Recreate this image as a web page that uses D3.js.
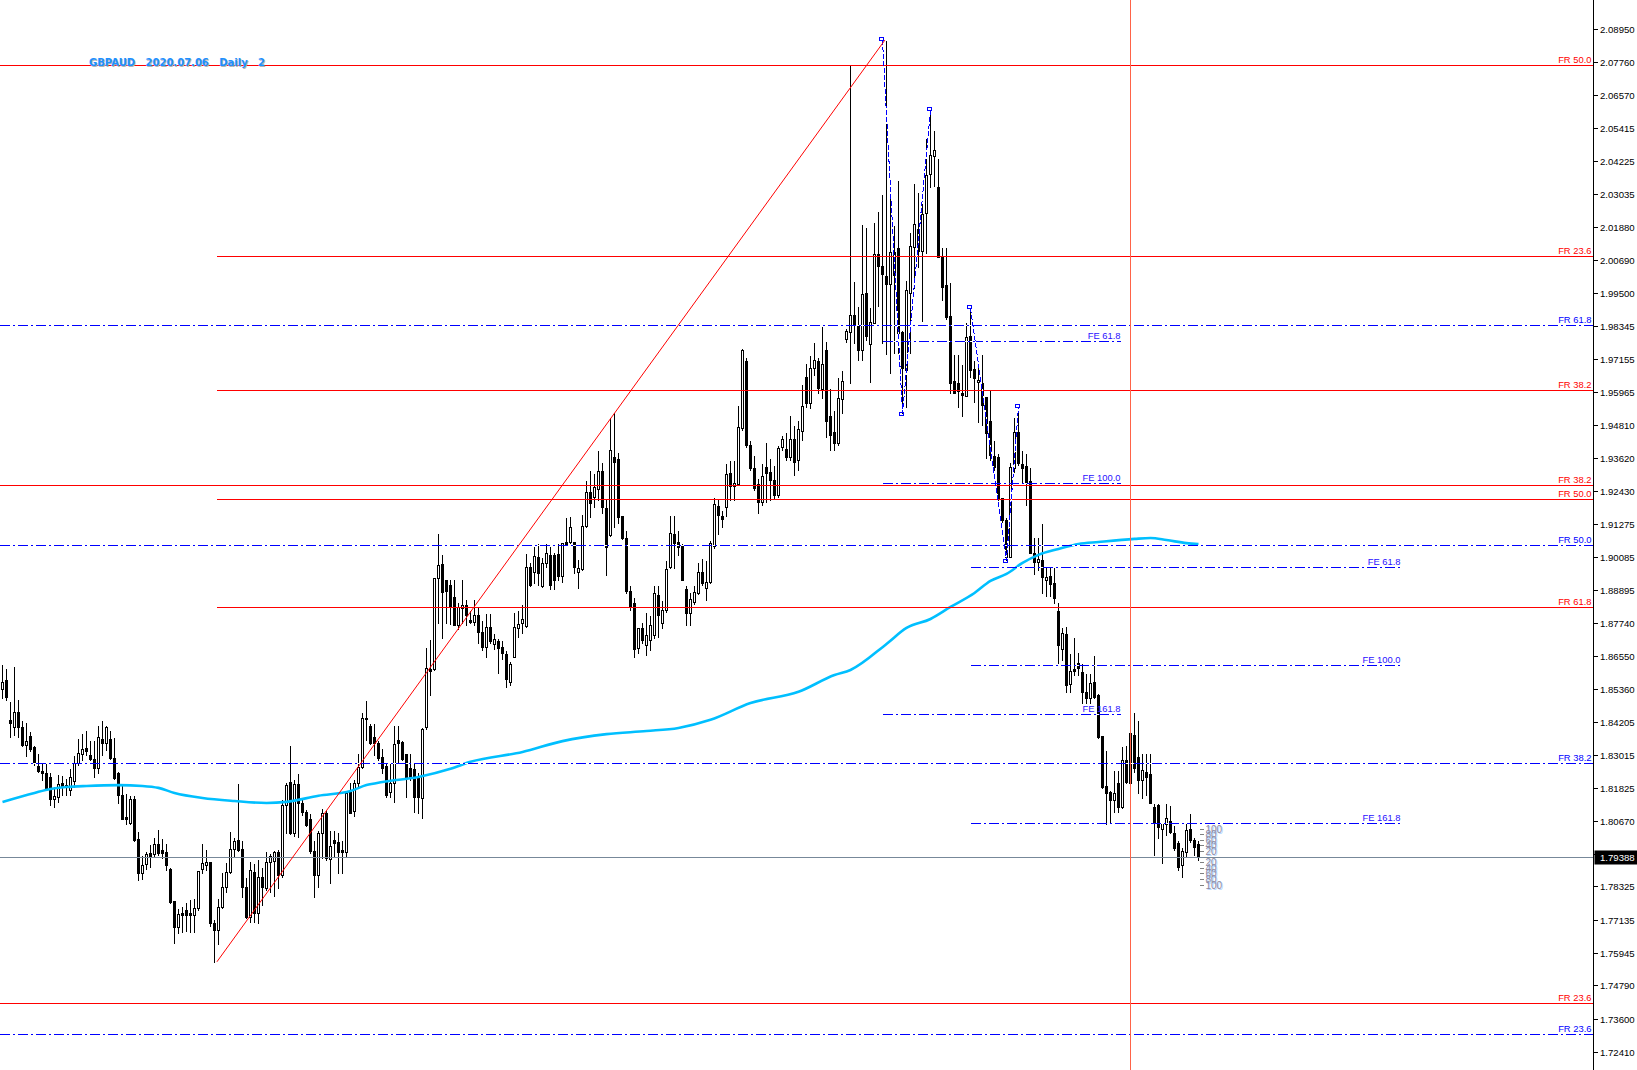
<!DOCTYPE html>
<html>
<head>
<meta charset="utf-8">
<title>GBPAUD Daily</title>
<script src="https://cdnjs.cloudflare.com/ajax/libs/d3/7.8.5/d3.min.js"></script>
<style>
  html, body { margin: 0; padding: 0; background: #fff; overflow: hidden; }
  svg { display: block; }
  text { font-family: 'Liberation Sans', Arial, sans-serif; }
</style>
</head>
<body>
<div class="visHolder"></div>
<script>
// Chart title pieces
var symbol = 'GBPAUD', dateText = '2020.07.06', period = 'Daily', windowNo = '2';

// Daily candles, oldest first
var opens = [
1.8537,1.8569,1.8427,1.8402,1.8455,1.8402,1.8337,1.8370,1.8330,1.8263,
1.8244,1.8237,1.8223,1.8145,1.8152,1.8201,1.8194,1.8177,1.8208,1.8273,
1.8306,1.8327,1.8302,1.8288,1.8255,1.8359,1.8344,1.8359,1.8291,1.8237,
1.8159,1.8080,1.8059,1.8145,1.8002,1.7880,1.7913,1.7952,1.7949,1.7984,
1.7963,1.7956,1.7895,1.7780,1.7688,1.7737,1.7748,1.7737,1.7730,1.7755,
1.7895,1.7909,1.7920,1.7702,1.7677,1.7759,1.7830,1.7884,1.7966,1.7998,
1.7966,1.7830,1.7723,1.7884,1.7737,1.7866,1.7827,1.7920,1.7923,1.7956,
1.7873,1.8123,1.8205,1.8023,1.8198,1.8130,1.8098,1.8073,1.7959,1.7873,
1.8023,1.8094,1.7931,1.7998,1.7991,1.7963,1.7956,1.8170,1.8101,1.8201,
1.8259,1.8434,1.8405,1.8366,1.8344,1.8295,1.8263,1.8170,1.8201,1.8355,
1.8348,1.8306,1.8255,1.8252,1.8223,1.8148,1.8402,1.8609,1.8609,1.8933,
1.8984,1.8926,1.8908,1.8866,1.8766,1.8826,1.8837,1.8784,1.8777,1.8801,
1.8741,1.8687,1.8759,1.8698,1.8709,1.8687,1.8662,1.8562,1.8652,1.8755,
1.8773,1.8762,1.8973,1.8955,1.9009,1.8905,1.8987,1.9016,1.9016,1.9020,
1.8941,1.9062,1.9062,1.9062,1.8955,1.8966,1.9119,1.9241,1.9223,1.9251,
1.9315,1.9183,1.9087,1.9366,1.9359,1.9155,1.9076,1.8887,1.8844,1.8684,
1.8755,1.8694,1.8712,1.8730,1.8873,1.8773,1.8819,1.8973,1.9091,1.9062,
1.9048,1.8894,1.8808,1.8848,1.8880,1.8955,1.8898,1.8919,1.9048,1.9191,
1.9155,1.9187,1.9308,1.9262,1.9269,1.9469,1.9708,1.9409,1.9326,1.9269,
1.9205,1.9330,1.9312,1.9283,1.9230,1.9401,1.9394,1.9366,1.9430,1.9355,
1.9458,1.9651,1.9558,1.9683,1.9708,1.9608,1.9748,1.9512,1.9455,1.9416,
1.9573,1.9787,1.9812,1.9872,1.9833,1.9748,1.9951,1.9769,1.9844,2.0090,
2.0047,2.0012,1.9983,2.0098,2.0112,1.9812,1.9676,1.9951,2.0115,2.0180,
2.0101,2.0237,2.0376,2.0440,2.0329,2.0080,1.9979,1.9869,1.9637,1.9630,
1.9594,1.9583,1.9798,1.9680,1.9633,1.9630,1.9580,1.9494,1.9369,1.9366,
1.9219,1.9141,1.9009,1.9326,1.9455,1.9341,1.9334,1.9280,1.9023,1.8991,
1.8998,1.8926,1.8941,1.8915,1.8816,1.8680,1.8734,1.8555,1.8609,1.8630,
1.8598,1.8527,1.8505,1.8562,1.8516,1.8370,1.8191,1.8170,1.8141,1.8201,
1.8116,1.8284,1.8201,1.8373,1.8295,1.8212,1.8241,1.8234,1.8116,1.8123,
1.8038,1.8056,1.8066,1.8023,1.7987,1.7909,1.7956,1.8038,1.7998,1.7984];

var highs = [
1.8627,1.8612,1.8494,1.8620,1.8502,1.8427,1.8420,1.8387,1.8337,1.8309,
1.8273,1.8273,1.8241,1.8191,1.8234,1.8230,1.8219,1.8255,1.8302,1.8362,
1.8380,1.8391,1.8355,1.8355,1.8409,1.8427,1.8409,1.8391,1.8366,1.8244,
1.8198,1.8166,1.8159,1.8159,1.8030,1.7945,1.7959,1.7984,1.8009,1.8037,
1.8005,1.7987,1.7902,1.7780,1.7755,1.7762,1.7777,1.7788,1.7791,1.7891,
1.7987,1.7966,1.7923,1.7716,1.7791,1.7884,1.7920,1.8030,1.8009,1.8201,
1.7998,1.7866,1.7923,1.7916,1.7931,1.7902,1.7959,1.7952,1.7963,1.7966,
1.8145,1.8205,1.8337,1.8216,1.8237,1.8152,1.8109,1.8094,1.7998,1.8034,
1.8112,1.8105,1.8034,1.8034,1.8027,1.7998,1.8170,1.8205,1.8216,1.8309,
1.8455,1.8498,1.8416,1.8416,1.8355,1.8327,1.8277,1.8273,1.8409,1.8409,
1.8355,1.8309,1.8309,1.8273,1.8241,1.8402,1.8687,1.8716,1.8937,1.9094,
1.9020,1.8930,1.8930,1.8930,1.8848,1.8930,1.8859,1.8819,1.8859,1.8834,
1.8784,1.8808,1.8808,1.8737,1.8719,1.8712,1.8677,1.8637,1.8812,1.8819,
1.8841,1.9023,1.8991,1.9048,1.9058,1.9009,1.9058,1.9048,1.9027,1.9058,
1.9058,1.9151,1.9155,1.9062,1.9002,1.9162,1.9283,1.9319,1.9308,1.9391,
1.9348,1.9219,1.9508,1.9526,1.9384,1.9158,1.9105,1.8908,1.8866,1.8737,
1.8777,1.8812,1.8801,1.8908,1.8908,1.8855,1.8998,1.9158,1.9158,1.9105,
1.9058,1.8908,1.8884,1.8908,1.8991,1.9005,1.8998,1.9069,1.9223,1.9219,
1.9176,1.9344,1.9355,1.9355,1.9551,1.9755,1.9723,1.9426,1.9373,1.9290,
1.9344,1.9419,1.9362,1.9337,1.9409,1.9444,1.9455,1.9516,1.9480,1.9498,
1.9626,1.9701,1.9730,1.9776,1.9723,1.9833,1.9780,1.9612,1.9533,1.9651,
1.9676,1.9826,2.0765,1.9994,1.9905,2.0198,2.0187,1.9901,2.0205,2.0244,
2.0305,2.0854,2.0308,2.0194,2.0354,1.9819,1.9997,2.0169,2.0344,2.0312,
2.0272,2.0504,2.0604,2.0533,2.0433,2.0115,2.0115,1.9990,1.9733,1.9733,
1.9698,1.9848,1.9897,1.9712,1.9705,1.9733,1.9580,1.9605,1.9426,1.9380,
1.9223,1.9151,1.9348,1.9508,1.9544,1.9391,1.9380,1.9330,1.9080,1.9080,
1.9130,1.8973,1.8973,1.8973,1.8848,1.8759,1.8762,1.8666,1.8723,1.8670,
1.8630,1.8594,1.8594,1.8659,1.8523,1.8373,1.8320,1.8177,1.8248,1.8248,
1.8334,1.8337,1.8416,1.8455,1.8427,1.8309,1.8309,1.8309,1.8130,1.8130,
1.8063,1.8130,1.8123,1.8052,1.7998,1.7973,1.8059,1.8094,1.8009,1.7998];

var lows = [
1.8505,1.8498,1.8366,1.8373,1.8366,1.8334,1.8299,1.8316,1.8266,1.8241,
1.8212,1.8177,1.8123,1.8116,1.8134,1.8159,1.8159,1.8159,1.8187,1.8266,
1.8284,1.8302,1.8284,1.8223,1.8237,1.8302,1.8320,1.8288,1.8216,1.8130,
1.8073,1.8056,1.8056,1.7994,1.7855,1.7859,1.7895,1.7902,1.7942,1.7945,
1.7934,1.7891,1.7773,1.7630,1.7666,1.7670,1.7673,1.7670,1.7670,1.7748,
1.7880,1.7891,1.7691,1.7563,1.7627,1.7755,1.7813,1.7880,1.7938,1.7959,
1.7795,1.7720,1.7706,1.7706,1.7702,1.7766,1.7820,1.7813,1.7798,1.7827,
1.7866,1.8023,1.8020,1.8013,1.8009,1.8087,1.8048,1.7952,1.7795,1.7830,
1.7934,1.7927,1.7844,1.7938,1.7880,1.7880,1.7938,1.8094,1.8084,1.8187,
1.8255,1.8355,1.8341,1.8302,1.8284,1.8237,1.8152,1.8152,1.8134,1.8273,
1.8284,1.8152,1.8212,1.8098,1.8094,1.8077,1.8395,1.8516,1.8605,1.8773,
1.8719,1.8773,1.8770,1.8766,1.8752,1.8773,1.8766,1.8773,1.8766,1.8702,
1.8677,1.8652,1.8702,1.8680,1.8594,1.8645,1.8544,1.8551,1.8652,1.8723,
1.8737,1.8759,1.8905,1.8915,1.8908,1.8901,1.8973,1.8894,1.8894,1.8926,
1.8919,1.9051,1.9058,1.8951,1.8897,1.8962,1.9116,1.9151,1.9187,1.9212,
1.9165,1.8944,1.9084,1.9116,1.9130,1.9073,1.8880,1.8819,1.8652,1.8666,
1.8702,1.8659,1.8677,1.8719,1.8723,1.8755,1.8812,1.8969,1.8969,1.9016,
1.8926,1.8766,1.8766,1.8841,1.8877,1.8908,1.8855,1.8915,1.9041,1.9091,
1.9116,1.9155,1.9212,1.9212,1.9265,1.9462,1.9401,1.9319,1.9248,1.9165,
1.9194,1.9205,1.9212,1.9219,1.9223,1.9391,1.9355,1.9355,1.9301,1.9319,
1.9426,1.9544,1.9541,1.9658,1.9594,1.9576,1.9437,1.9391,1.9391,1.9409,
1.9523,1.9776,1.9630,1.9773,1.9712,1.9712,1.9783,1.9633,1.9844,1.9905,
1.9773,1.9733,1.9665,1.9737,1.9737,1.9523,1.9544,1.9737,1.9969,2.0044,
1.9851,2.0094,2.0329,2.0333,2.0080,1.9926,1.9858,1.9594,1.9594,1.9544,
1.9512,1.9583,1.9651,1.9562,1.9491,1.9480,1.9362,1.9355,1.9319,1.9201,
1.9134,1.8998,1.9009,1.9312,1.9337,1.9273,1.9194,1.9023,1.8948,1.8962,
1.8880,1.8869,1.8869,1.8844,1.8630,1.8641,1.8527,1.8527,1.8587,1.8587,
1.8487,1.8487,1.8487,1.8505,1.8362,1.8184,1.8056,1.8059,1.8098,1.8098,
1.8112,1.8201,1.8187,1.8241,1.8166,1.8148,1.8159,1.8130,1.7945,1.8005,
1.7916,1.8016,1.8023,1.7963,1.7891,1.7866,1.7938,1.7991,1.7945,1.7927];

var closes = [
1.8562,1.8509,1.8416,1.8455,1.8402,1.8337,1.8351,1.8323,1.8273,1.8244,
1.8237,1.8180,1.8145,1.8156,1.8198,1.8191,1.8187,1.8223,1.8273,1.8309,
1.8323,1.8316,1.8288,1.8255,1.8366,1.8344,1.8402,1.8291,1.8219,1.8159,
1.8073,1.8073,1.8145,1.7998,1.7880,1.7909,1.7949,1.7942,1.7984,1.7952,
1.7952,1.7909,1.7777,1.7688,1.7734,1.7730,1.7730,1.7730,1.7755,1.7887,
1.7916,1.7920,1.7702,1.7677,1.7759,1.7830,1.7884,1.7966,1.7994,1.7963,
1.7830,1.7723,1.7891,1.7737,1.7866,1.7830,1.7920,1.7942,1.7956,1.7873,
1.8123,1.8194,1.8023,1.8198,1.8130,1.8098,1.8052,1.7959,1.7873,1.8023,
1.8094,1.7934,1.7977,1.7987,1.7956,1.7956,1.8166,1.8094,1.8201,1.8259,
1.8434,1.8430,1.8344,1.8344,1.8291,1.8255,1.8159,1.8201,1.8341,1.8344,
1.8288,1.8223,1.8219,1.8152,1.8152,1.8395,1.8612,1.8602,1.8933,1.8980,
1.8884,1.8887,1.8830,1.8766,1.8830,1.8837,1.8801,1.8777,1.8801,1.8741,
1.8687,1.8759,1.8709,1.8716,1.8684,1.8666,1.8573,1.8627,1.8759,1.8770,
1.8787,1.8973,1.8908,1.9012,1.8951,1.8987,1.9023,1.8908,1.8926,1.8941,
1.9058,1.9055,1.9116,1.8973,1.8969,1.9119,1.9241,1.9201,1.9258,1.9315,
1.9187,1.9044,1.9391,1.9348,1.9151,1.9076,1.8887,1.8834,1.8680,1.8755,
1.8712,1.8730,1.8766,1.8880,1.8801,1.8819,1.8966,1.9094,1.9058,1.9044,
1.8926,1.8808,1.8859,1.8884,1.8955,1.8915,1.8919,1.9058,1.9198,1.9158,
1.9144,1.9305,1.9262,1.9273,1.9473,1.9748,1.9409,1.9326,1.9255,1.9205,
1.9298,1.9308,1.9283,1.9230,1.9398,1.9430,1.9366,1.9430,1.9348,1.9466,
1.9548,1.9558,1.9683,1.9712,1.9612,1.9698,1.9494,1.9444,1.9416,1.9576,
1.9637,1.9816,1.9872,1.9840,1.9748,1.9947,1.9798,1.9848,2.0090,2.0047,
2.0019,1.9983,2.0098,2.0015,1.9808,1.9683,1.9962,2.0119,2.0198,2.0101,
2.0233,2.0372,2.0444,2.0462,2.0080,1.9972,1.9865,1.9630,1.9594,1.9601,
1.9587,1.9794,1.9676,1.9648,1.9640,1.9551,1.9451,1.9373,1.9330,1.9219,
1.9141,1.9009,1.9330,1.9455,1.9344,1.9326,1.9276,1.9023,1.8991,1.9002,
1.8937,1.8937,1.8912,1.8862,1.8694,1.8737,1.8552,1.8602,1.8602,1.8612,
1.8527,1.8505,1.8559,1.8509,1.8366,1.8187,1.8166,1.8141,1.8166,1.8116,
1.8284,1.8205,1.8380,1.8255,1.8212,1.8248,1.8223,1.8130,1.8063,1.8045,
1.8059,1.8077,1.8027,1.7970,1.7902,1.7959,1.8034,1.7998,1.7973,1.79388];

var lastPrice = 1.79388;

// Moving average (sampled at bar indices)
var maIndex = [0,8,12,16,21,29,35,39,43,50,58,66,71,79,87,91,95,104,112,117,130,140,151,161,169,177,187,199,208,212,221,226,232,237,243,247,251,255,259,264,269,274,283,287,291,296,299];
var maValues = [1.8134,1.8166,1.8180,1.8187,1.8191,1.8194,1.8191,1.8184,1.8166,1.8148,1.8137,1.8130,1.8134,1.8156,1.8173,1.8194,1.8205,1.8223,1.8252,1.8277,1.8312,1.8351,1.8376,1.8387,1.8398,1.8427,1.8487,1.8527,1.8587,1.8605,1.8698,1.8755,1.8787,1.8830,1.8880,1.8923,1.8948,1.8987,1.9016,1.9037,1.9055,1.9062,1.9073,1.9076,1.9069,1.9058,1.9055];

// Price axis labels
var tickLabels = ['2.08950','2.07760','2.06570','2.05415','2.04225','2.03035','2.01880','2.00690','1.99500','1.98345',
  '1.97155','1.95965','1.94810','1.93620','1.92430','1.91275','1.90085','1.88895','1.87740','1.86550',
  '1.85360','1.84205','1.83015','1.81825','1.80670','1.79480','1.78325','1.77135','1.75945','1.74790','1.73600','1.72410'];

// Red retracement, full width
var redFullLevels = [2.0765, 1.9267, 1.7416];
var redFullNames = ['FR 50.0', 'FR 38.2', 'FR 23.6'];

// Red retracement drawn from the swing low to the swing high
var redFibBars = [53.6, 220.6];
var redFibPrices = [1.7563, 2.0854];
var redFibLevels = [2.0083, 1.9603, 1.9215, 1.8830];
var redFibNames = ['FR 23.6', 'FR 38.2', 'FR 50.0', 'FR 61.8'];

// Blue retracement, full width
var blueFullLevels = [1.9835, 1.9053, 1.8273, 1.7306];
var blueFullNames = ['FR 61.8', 'FR 50.0', 'FR 38.2', 'FR 23.6'];

// Fibonacci expansions (A, B, C points and levels)
var feOneBars = [220, 225, 232];
var feOnePrices = [2.0854, 1.9523, 2.0604];
var feOneLevels = [1.9778, 1.9271, 1.8448];
var feOneEnd = 279.5;
var feTwoBars = [242, 251, 254];
var feTwoPrices = [1.9897, 1.8998, 1.9544];
var feTwoLevels = [1.8973, 1.8623, 1.8060];
var feTwoEnd = 349.5;
var feNames = ['FE 61.8', 'FE 100.0', 'FE 161.8'];

// Vertical marker bar
var markerBar = 282;

// Small ladder beside the last bar (pips)
var ladderSteps = [100, 80, 60, 40, 20];

// ---- dimensions ----
var width = 1637, height = 1070, axisX = 1593.5;

var svg = d3.select('.visHolder').append('svg')
  .attr('width', width)
  .attr('height', height);

svg.append('rect').attr('width', width).attr('height', height).attr('fill', '#fff');

// bar index -> x, price -> y
var xScale = d3.scaleLinear().domain([0, 1]).range([2.5, 6.5]);
var yScale = d3.scaleLinear().domain([2.0895, 1.7241]).range([28.6, 1052]);

function cx(i) { return Math.floor(xScale(i)) + 0.5; }
function py(p) { return Math.round(yScale(p)) + 0.5; }

// ---- candles ----
var candles = d3.range(opens.length).map(function (i) {
  return { i: i, o: opens[i], h: highs[i], l: lows[i], c: closes[i] };
});

var cg = svg.append('g').attr('shape-rendering', 'crispEdges');

cg.selectAll('line.wick').data(candles).enter().append('line')
  .attr('class', 'wick')
  .attr('x1', function (d) { return cx(d.i); })
  .attr('x2', function (d) { return cx(d.i); })
  .attr('y1', function (d) { return py(d.h); })
  .attr('y2', function (d) { return py(d.l); })
  .attr('stroke', '#000');

cg.selectAll('path.body').data(candles).enter().append('path')
  .attr('class', 'body')
  .attr('d', function (d) {
    var top = py(Math.max(d.o, d.c)), bot = py(Math.min(d.o, d.c));
    var x0 = cx(d.i) - 1;
    return 'M' + x0 + ',' + top + 'H' + (x0 + 2) + 'V' + bot + 'H' + x0 + 'Z';
  })
  .attr('fill', function (d) { return d.c >= d.o ? '#fff' : '#000'; })
  .attr('stroke', '#000');

// ---- moving average ----
var maLine = d3.line()
  .x(function (d, k) { return xScale(maIndex[k]); })
  .y(function (d) { return yScale(d); })
  .curve(d3.curveMonotoneX);

svg.append('path')
  .attr('d', maLine(maValues))
  .attr('fill', 'none')
  .attr('stroke', '#00bfff')
  .attr('stroke-width', 2.6);

// ---- objects ----
var og = svg.append('g').attr('shape-rendering', 'crispEdges');

// horizontal line, dashed ones get an opaque white backing like the terminal draws
function hLine(x1, x2, price, color, dash) {
  var y = py(price);
  if (dash) {
    og.append('line').attr('x1', x1).attr('x2', x2).attr('y1', y).attr('y2', y)
      .attr('stroke', '#fff');
  }
  og.append('line').attr('x1', x1).attr('x2', x2).attr('y1', y).attr('y2', y)
    .attr('stroke', color)
    .attr('stroke-dasharray', dash || null);
}

function levelText(x, price, txt, color) {
  svg.append('text')
    .attr('x', x)
    .attr('y', py(price) - 2.5)
    .attr('text-anchor', 'end')
    .attr('font-size', '9.4px')
    .attr('fill', color)
    .text(txt);
}

var dashDot = '10,3,2,3';

// red full width retracement
redFullLevels.forEach(function (p, k) {
  hLine(0, axisX, p, '#ff0000');
  levelText(axisX - 2, p, redFullNames[k], '#ff0000');
});

// red retracement from the swing low
redFibLevels.forEach(function (p, k) {
  hLine(xScale(redFibBars[0]), axisX, p, '#ff0000');
  levelText(axisX - 2, p, redFibNames[k], '#ff0000');
});

// red trend line low -> high
svg.append('line')
  .attr('x1', xScale(redFibBars[0])).attr('y1', yScale(redFibPrices[0]))
  .attr('x2', xScale(redFibBars[1])).attr('y2', yScale(redFibPrices[1]))
  .attr('stroke', '#ff0000');

// blue retracement
blueFullLevels.forEach(function (p, k) {
  hLine(0, axisX, p, '#0000ff', dashDot);
  levelText(axisX - 2, p, blueFullNames[k], '#0000ff');
});

// expansions
function drawExpansion(bars, prices, levels, endBar) {
  var pts = bars.map(function (b, k) { return [cx(b), yScale(prices[k])]; });
  var path = d3.line()(pts);
  og.append('path').attr('d', path).attr('fill', 'none').attr('stroke', '#fff');
  og.append('path').attr('d', path).attr('fill', 'none')
    .attr('stroke', '#0000ff').attr('stroke-dasharray', '5,2');
  // small anchor boxes
  pts.forEach(function (pt, k) {
    og.append('rect')
      .attr('x', pt[0] - 3.5).attr('y', Math.round(pt[1]) - (k === 1 ? 0.5 : 2.5))
      .attr('width', 4).attr('height', 3)
      .attr('fill', 'none').attr('stroke', '#0000ff');
  });
  levels.forEach(function (p, k) {
    hLine(cx(bars[0]), xScale(endBar), p, '#0000ff', dashDot);
    levelText(xScale(endBar), p, feNames[k], '#2a10ff');
  });
}

drawExpansion(feOneBars, feOnePrices, feOneLevels, feOneEnd);
drawExpansion(feTwoBars, feTwoPrices, feTwoLevels, feTwoEnd);

// bid line
og.append('line')
  .attr('x1', 0).attr('x2', axisX)
  .attr('y1', py(lastPrice)).attr('y2', py(lastPrice))
  .attr('stroke', '#778899');

// vertical marker
og.append('line')
  .attr('x1', cx(markerBar)).attr('x2', cx(markerBar))
  .attr('y1', 0).attr('y2', height)
  .attr('stroke', '#ff6347');

// ---- ladder next to the last bar ----
var ladder = [];
ladderSteps.forEach(function (v) { ladder.push({ v: v, p: lastPrice + v / 10000 }); });
ladderSteps.slice().reverse().forEach(function (v) { ladder.push({ v: v, p: lastPrice - v / 10000 }); });

var lx = cx(closes.length - 1) + 3;
ladder.forEach(function (d) {
  svg.append('line')
    .attr('x1', lx - 2).attr('x2', lx + 2)
    .attr('y1', py(d.p)).attr('y2', py(d.p))
    .attr('stroke', '#808080').attr('shape-rendering', 'crispEdges');
  svg.append('text')
    .attr('x', lx + 5).attr('y', py(d.p) + 4.5)
    .attr('font-size', '10px').attr('fill', '#b5d8ff')
    .text(d.v);
  svg.append('text')
    .attr('x', lx + 4).attr('y', py(d.p) + 3.5)
    .attr('font-size', '10px').attr('fill', '#8f8aa0')
    .text(d.v);
});

// ---- price axis ----
svg.append('line')
  .attr('x1', axisX).attr('x2', axisX)
  .attr('y1', 0).attr('y2', height)
  .attr('stroke', '#000').attr('shape-rendering', 'crispEdges');

var ag = svg.append('g');
tickLabels.forEach(function (t) {
  var y = py(parseFloat(t));
  ag.append('line')
    .attr('x1', axisX).attr('x2', axisX + 4)
    .attr('y1', y).attr('y2', y)
    .attr('stroke', '#000').attr('shape-rendering', 'crispEdges');
  ag.append('text')
    .attr('x', 1600).attr('y', y + 3.5)
    .attr('font-size', '9.6px')
    .attr('fill', '#000')
    .text(t);
});

// last price box
var ly = py(lastPrice);
svg.append('rect')
  .attr('x', axisX + 1).attr('y', ly - 7)
  .attr('width', width - axisX).attr('height', 14)
  .attr('fill', '#000');
svg.append('text')
  .attr('x', 1600).attr('y', ly + 3.5)
  .attr('font-size', '9.6px')
  .attr('fill', '#fff')
  .text(lastPrice.toFixed(5));

// ---- title ----
var title = symbol + '   ' + dateText + '   ' + period + '   ' + windowNo;
svg.append('text')
  .attr('x', 90).attr('y', 67)
  .style('white-space', 'pre')
  .style('font-family', "'DejaVu Sans', sans-serif")
  .attr('font-size', '10px').attr('font-weight', 'bold')
  .attr('fill', '#b4b4b4')
  .text(title);
svg.append('text')
  .attr('x', 89).attr('y', 65.5)
  .style('white-space', 'pre')
  .style('font-family', "'DejaVu Sans', sans-serif")
  .attr('font-size', '10px').attr('font-weight', 'bold')
  .attr('fill', '#1e90ff')
  .text(title);
</script>
</body>
</html>
